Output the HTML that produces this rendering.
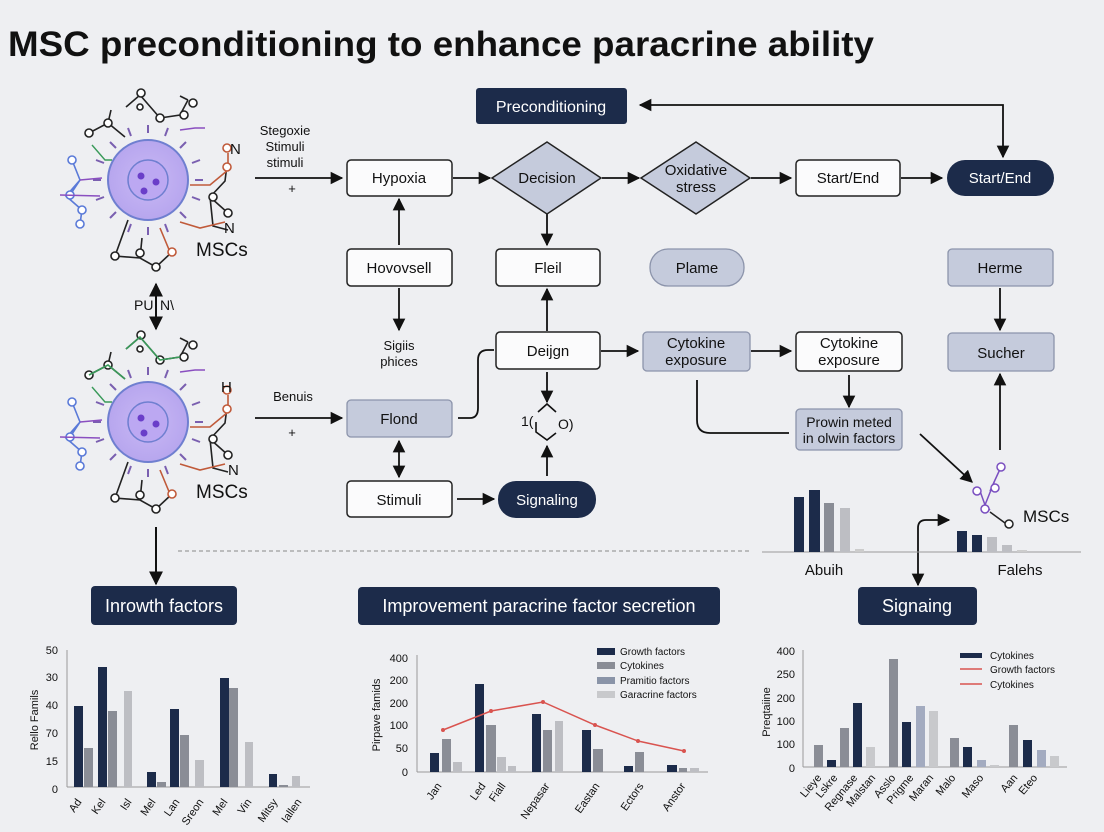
<!DOCTYPE html>
<html><head><meta charset="utf-8"><style>
html,body{margin:0;padding:0;background:#eeeff2;}
svg{display:block;font-family:"Liberation Sans",sans-serif;}
</style></head><body>
<svg width="1104" height="832" viewBox="0 0 1104 832" xmlns="http://www.w3.org/2000/svg">
<defs>
<marker id="a" viewBox="0 0 10 10" refX="9" refY="5" markerWidth="7" markerHeight="7" orient="auto-start-reverse"><path d="M0,0L10,5L0,10z" fill="#111"/></marker>
<radialGradient id="cg" cx="50%" cy="50%" r="50%"><stop offset="0" stop-color="#c9b8f5"/><stop offset="1" stop-color="#b7a6ee"/></radialGradient>
</defs>
<rect width="1104" height="832" fill="#eeeff2"/>
<text x="8" y="56" font-size="35" font-weight="bold" fill="#111" textLength="866" lengthAdjust="spacingAndGlyphs">MSC preconditioning to enhance  paracrine ability</text>

<!-- cells -->
<g id="cell1">
<g stroke="#7a5fb0" stroke-width="2">
<line x1="148" y1="125" x2="148" y2="133"/><line x1="148" y1="227" x2="148" y2="235"/>
<line x1="93" y1="180" x2="101" y2="180"/><line x1="195" y1="180" x2="203" y2="180"/>
<line x1="110" y1="142" x2="116" y2="148"/><line x1="186" y1="142" x2="180" y2="148"/>
<line x1="110" y1="218" x2="116" y2="212"/><line x1="186" y1="218" x2="180" y2="212"/>
<line x1="128" y1="128" x2="131" y2="136"/><line x1="168" y1="128" x2="165" y2="136"/>
<line x1="128" y1="232" x2="131" y2="224"/><line x1="168" y1="232" x2="165" y2="224"/>
<line x1="96" y1="160" x2="104" y2="163"/><line x1="200" y1="160" x2="192" y2="163"/>
<line x1="96" y1="200" x2="104" y2="197"/><line x1="200" y1="200" x2="192" y2="197"/>
</g>
<circle cx="148" cy="180" r="40" fill="url(#cg)" stroke="#6f7fd0" stroke-width="2"/>
<circle cx="148" cy="180" r="20" fill="#bca8f2" stroke="#6f7fd0" stroke-width="1.5"/>
<circle cx="141" cy="176" r="3.5" fill="#6a3ec9"/><circle cx="156" cy="182" r="3.5" fill="#6a3ec9"/><circle cx="144" cy="191" r="3.5" fill="#6a3ec9"/>
<g fill="none" stroke="#222" stroke-width="1.6">
<path d="M125,137 L108,123 L89,133 M108,123 L111,110 M126,107 L140,95 L160,118 M140,95 L141,93 M160,118 L180,115 L188,100 M188,100 L180,96"/>
<circle cx="89" cy="133" r="4" fill="#fff"/><circle cx="108" cy="123" r="4" fill="#fff"/><circle cx="141" cy="93" r="4" fill="#fff"/><circle cx="140" cy="107" r="3" fill="#fff"/><circle cx="160" cy="118" r="4" fill="#fff"/><circle cx="184" cy="115" r="4" fill="#fff"/><circle cx="193" cy="103" r="4" fill="#fff"/>
<path d="M128,220 L115,256 L140,258 L156,267 L172,252 M140,258 L142,238 M228,230 L213,226 L210,197 L225,181 L227,165 M210,197 L228,213"/>
<circle cx="115" cy="256" r="4" fill="#fff"/><circle cx="140" cy="253" r="4" fill="#fff"/><circle cx="156" cy="267" r="4" fill="#fff"/><circle cx="228" cy="213" r="4" fill="#fff"/><circle cx="213" cy="197" r="4" fill="#fff"/>
</g>
<g fill="none" stroke="#c05a3a" stroke-width="1.6"><path d="M190,185 L210,185 L228,170 L228,153 M180,222 L200,228 L225,222 M160,228 L170,252"/><circle cx="227" cy="167" r="4" fill="#fff"/><circle cx="227" cy="148" r="4" fill="#fff"/><circle cx="172" cy="252" r="4" fill="#fff"/></g>
<g fill="none" stroke="#5a7ad8" stroke-width="1.6"><path d="M72,160 L80,180 L70,195 M80,180 L66,196 L82,210 L80,224"/><circle cx="72" cy="160" r="4" fill="#fff"/><circle cx="70" cy="195" r="4" fill="#fff"/><circle cx="80" cy="224" r="4" fill="#fff"/><circle cx="82" cy="210" r="4" fill="#fff"/></g>
<g fill="none" stroke="#8a4fc0" stroke-width="1.6"><path d="M60,195 L100,196 M80,180 L102,178 M180,130 L195,128 L205,128"/></g>
<g fill="none" stroke="#3a9a5a" stroke-width="1.4"><path d="M92,145 L105,160 L112,160"/></g>
</g>
<text x="230" y="154" font-size="15" fill="#111">N</text><text x="224" y="233" font-size="15" fill="#111">N</text>
<text x="196" y="256" font-size="19" fill="#111">MSCs</text>
<use href="#cell1" transform="translate(0,242)"/>
<g fill="none" stroke="#3a9a5a" stroke-width="1.6"><path d="M125,379 L108,365 L89,375 M126,349 L140,337 L160,360 L180,357"/></g>
<text x="221" y="392" font-size="15" fill="#111">H</text>
<text x="228" y="475" font-size="15" fill="#111">N</text>
<text x="196" y="498" font-size="19" fill="#111">MSCs</text>

<text x="134" y="310" font-size="14" fill="#111">PU</text><text x="160" y="310" font-size="14" fill="#111">N\</text>
<line x1="156" y1="284" x2="156" y2="329" stroke="#111" stroke-width="2" marker-start="url(#a)" marker-end="url(#a)"/>
<line x1="156" y1="527" x2="156" y2="584" stroke="#111" stroke-width="2" marker-end="url(#a)"/>

<!-- texts left -->
<g font-size="13" fill="#111" text-anchor="middle">
<text x="285" y="135">Stegoxie</text><text x="285" y="151">Stimuli</text><text x="285" y="167">stimuli</text>
<text x="292" y="193">+</text>
<text x="293" y="401">Benuis</text><text x="292" y="437">+</text>
<text x="399" y="350">Sigiis</text><text x="399" y="366">phices</text>
</g>

<!-- connectors -->
<g stroke="#111" stroke-width="1.8" fill="none">
<line x1="255" y1="178" x2="342" y2="178" marker-end="url(#a)"/>
<line x1="453" y1="178" x2="490" y2="178" marker-end="url(#a)"/>
<line x1="602" y1="178" x2="639" y2="178" marker-end="url(#a)"/>
<line x1="751" y1="178" x2="791" y2="178" marker-end="url(#a)"/>
<line x1="901" y1="178" x2="942" y2="178" marker-end="url(#a)"/>
<polyline points="1003,157 1003,105 640,105" marker-start="url(#a)" marker-end="url(#a)"/>
<line x1="399" y1="245" x2="399" y2="199" marker-end="url(#a)"/>
<line x1="547" y1="214" x2="547" y2="245" marker-end="url(#a)"/>
<line x1="547" y1="331" x2="547" y2="289" marker-end="url(#a)"/>
<line x1="1000" y1="288" x2="1000" y2="330" marker-end="url(#a)"/>
<line x1="399" y1="288" x2="399" y2="330" marker-end="url(#a)"/>
<line x1="601" y1="351" x2="638" y2="351" marker-end="url(#a)"/>
<line x1="751" y1="351" x2="791" y2="351" marker-end="url(#a)"/>
<line x1="849" y1="375" x2="849" y2="407" marker-end="url(#a)"/>
<path d="M697,380 L697,420 Q697,433 710,433 L789,433"/>
<line x1="920" y1="434" x2="972" y2="482" marker-end="url(#a)"/>
<line x1="1000" y1="450" x2="1000" y2="374" marker-end="url(#a)"/>
<line x1="255" y1="418" x2="342" y2="418" marker-end="url(#a)"/>
<path d="M458,418 L470,418 Q478,418 478,408 L478,360 Q478,350 488,350 L494,350"/>
<line x1="399" y1="441" x2="399" y2="477" marker-start="url(#a)" marker-end="url(#a)"/>
<line x1="457" y1="499" x2="494" y2="499" marker-end="url(#a)"/>
<line x1="547" y1="476" x2="547" y2="446" marker-end="url(#a)"/>
<line x1="547" y1="372" x2="547" y2="402" marker-end="url(#a)"/>
<path d="M918,585 L918,528 Q918,520 926,520 L949,520" marker-start="url(#a)" marker-end="url(#a)"/>
</g>
<g stroke="#111" stroke-width="1.6" fill="none"><path d="M538,412 L547,404 L556,412 M536,422 L536,432 L547,440 L556,433"/></g>
<text x="521" y="426" font-size="14" fill="#111">1(</text><text x="558" y="429" font-size="14" fill="#111">O)</text>

<!-- nodes -->
<rect x="476" y="88" width="151" height="36" rx="3" fill="#1c2b4a"/>
<text x="551" y="112" font-size="16" fill="#fff" text-anchor="middle">Preconditioning</text>
<g stroke="#222" stroke-width="1.5">
<rect x="347" y="160" width="105" height="36" rx="4" fill="#fbfbfc"/>
<polygon points="492,178 547,142 601,178 547,214" fill="#c5cbdc"/>
<polygon points="641,178 696,142 750,178 696,214" fill="#c5cbdc"/>
<rect x="796" y="160" width="104" height="36" rx="4" fill="#fbfbfc"/>
<rect x="347" y="249" width="105" height="37" rx="4" fill="#fbfbfc"/>
<rect x="496" y="249" width="104" height="37" rx="4" fill="#fbfbfc"/>
<rect x="496" y="332" width="104" height="37" rx="4" fill="#fbfbfc"/>
<rect x="796" y="332" width="106" height="39" rx="4" fill="#fbfbfc"/>
<rect x="347" y="481" width="105" height="36" rx="4" fill="#fbfbfc"/>
</g>
<g stroke="#8c94ab" stroke-width="1.3" fill="#c5cbdc">
<rect x="650" y="249" width="94" height="37" rx="18"/>
<rect x="948" y="249" width="105" height="37" rx="4"/>
<rect x="643" y="332" width="107" height="39" rx="4"/>
<rect x="948" y="333" width="106" height="38" rx="4"/>
<rect x="796" y="409" width="106" height="41" rx="4"/>
<rect x="347" y="400" width="105" height="37" rx="4"/>
</g>
<rect x="947" y="160" width="107" height="36" rx="18" fill="#1c2b4a"/>
<rect x="498" y="481" width="98" height="37" rx="18" fill="#1c2b4a"/>
<g font-size="15" fill="#111" text-anchor="middle">
<text x="399" y="183">Hypoxia</text>
<text x="547" y="183">Decision</text>
<text x="696" y="175">Oxidative</text><text x="696" y="192">stress</text>
<text x="848" y="183">Start/End</text>
<text x="399" y="273">Hovovsell</text>
<text x="548" y="273">Fleil</text>
<text x="697" y="273">Plame</text>
<text x="1000" y="273">Herme</text>
<text x="548" y="356">Deĳgn</text>
<text x="696" y="348">Cytokine</text><text x="696" y="365">exposure</text>
<text x="849" y="348">Cytokine</text><text x="849" y="365">exposure</text>
<text x="1001" y="358">Sucher</text>
<text x="849" y="427" font-size="14">Prowin meted</text><text x="849" y="443" font-size="14">in olwin factors</text>
<text x="399" y="424">Flond</text>
<text x="399" y="505">Stimuli</text>
</g>
<text x="1000" y="183" font-size="15" fill="#fff" text-anchor="middle">Start/End</text>
<text x="547" y="505" font-size="15" fill="#fff" text-anchor="middle">Signaling</text>

<g fill="none" stroke="#7a4fc0" stroke-width="1.5"><path d="M1001,467 L995,480 L990,491 M980,491 L985,505 L990,510 M995,480 L985,505"/>
<circle cx="1001" cy="467" r="4" fill="#fff"/><circle cx="995" cy="488" r="4" fill="#fff"/><circle cx="977" cy="491" r="4" fill="#fff"/><circle cx="985" cy="509" r="4" fill="#fff"/></g>
<path d="M990,512 L1005,523" stroke="#222" stroke-width="1.5"/><circle cx="1009" cy="524" r="4" fill="#fff" stroke="#222" stroke-width="1.5"/>
<text x="1023" y="522" font-size="17" fill="#111">MSCs</text>

<line x1="178" y1="551" x2="752" y2="551" stroke="#888" stroke-width="1" stroke-dasharray="4,3"/>
<line x1="762" y1="552" x2="1081" y2="552" stroke="#999" stroke-width="1"/>
<rect x="794" y="497" width="10" height="55" fill="#1c2b4a"/><rect x="809" y="490" width="11" height="62" fill="#1c2b4a"/>
<rect x="824" y="503" width="10" height="49" fill="#8a8d96"/><rect x="840" y="508" width="10" height="44" fill="#bdbec3"/><rect x="855" y="549" width="9" height="3" fill="#ccc"/>
<rect x="957" y="531" width="10" height="21" fill="#1c2b4a"/><rect x="972" y="535" width="10" height="17" fill="#1c2b4a"/>
<rect x="987" y="537" width="10" height="15" fill="#bdbec3"/><rect x="1002" y="545" width="10" height="7" fill="#bdbec3"/><rect x="1017" y="550" width="10" height="2" fill="#ccc"/>
<text x="824" y="575" font-size="15" fill="#111" text-anchor="middle">Abuih</text>
<text x="1020" y="575" font-size="15" fill="#111" text-anchor="middle">Falehs</text>

<rect x="91" y="586" width="146" height="39" rx="4" fill="#1c2b4a"/>
<text x="164" y="612" font-size="18" fill="#fff" text-anchor="middle">Inrowth factors</text>
<rect x="358" y="587" width="362" height="38" rx="4" fill="#1c2b4a"/>
<text x="539" y="612" font-size="18" fill="#fff" text-anchor="middle">Improvement paracrine factor secretion</text>
<rect x="858" y="587" width="119" height="38" rx="4" fill="#1c2b4a"/>
<text x="917" y="612" font-size="18" fill="#fff" text-anchor="middle">Signaing</text>

<!-- chart 1 -->
<g stroke="#999" stroke-width="1"><line x1="67" y1="650" x2="67" y2="787"/><line x1="67" y1="787" x2="310" y2="787"/></g>
<g font-size="11" fill="#111" text-anchor="end"><text x="58" y="654">50</text><text x="58" y="681">30</text><text x="58" y="709">40</text><text x="58" y="737">70</text><text x="58" y="765">15</text><text x="58" y="793">0</text></g>
<text transform="translate(38,720) rotate(-90)" font-size="11" fill="#111" text-anchor="middle">Rello Famils</text>
<g fill="#1c2b4a"><rect x="74" y="706" width="9" height="81"/><rect x="98" y="667" width="9" height="120"/><rect x="147" y="772" width="9" height="15"/><rect x="170" y="709" width="9" height="78"/><rect x="220" y="678" width="9" height="109"/><rect x="269" y="774" width="8" height="13"/></g>
<g fill="#8a8d96"><rect x="84" y="748" width="9" height="39"/><rect x="108" y="711" width="9" height="76"/><rect x="157" y="782" width="9" height="5"/><rect x="180" y="735" width="9" height="52"/><rect x="229" y="688" width="9" height="99"/><rect x="279" y="785" width="9" height="2"/></g>
<g fill="#bdbec3"><rect x="124" y="691" width="8" height="96"/><rect x="195" y="760" width="9" height="27"/><rect x="245" y="742" width="8" height="45"/><rect x="292" y="776" width="8" height="11"/></g>
<g font-size="11" fill="#111" text-anchor="end">
<text transform="translate(82,802) rotate(-55)">Ad</text><text transform="translate(106,802) rotate(-55)">Kel</text><text transform="translate(132,802) rotate(-55)">Isl</text><text transform="translate(156,802) rotate(-55)">Mel</text><text transform="translate(180,802) rotate(-55)">Lan</text><text transform="translate(204,802) rotate(-55)">Sreon</text><text transform="translate(228,802) rotate(-55)">Mel</text><text transform="translate(252,802) rotate(-55)">Vin</text><text transform="translate(278,802) rotate(-55)">Mitsy</text><text transform="translate(302,802) rotate(-55)">Iallen</text>
</g>

<!-- chart 2 -->
<g stroke="#999" stroke-width="1"><line x1="417" y1="655" x2="417" y2="772"/><line x1="417" y1="772" x2="708" y2="772"/></g>
<g font-size="11" fill="#111" text-anchor="end"><text x="408" y="662">400</text><text x="408" y="684">200</text><text x="408" y="707">200</text><text x="408" y="729">100</text><text x="408" y="752">50</text><text x="408" y="776">0</text></g>
<text transform="translate(380,715) rotate(-90)" font-size="11" fill="#111" text-anchor="middle">Pirpave famids</text>
<g fill="#1c2b4a"><rect x="430" y="753" width="9" height="19"/><rect x="475" y="684" width="9" height="88"/><rect x="532" y="714" width="9" height="58"/><rect x="582" y="730" width="9" height="42"/><rect x="624" y="766" width="9" height="6"/><rect x="667" y="765" width="10" height="7"/></g>
<g fill="#8a8d96"><rect x="442" y="739" width="9" height="33"/><rect x="486" y="725" width="10" height="47"/><rect x="543" y="730" width="9" height="42"/><rect x="593" y="749" width="10" height="23"/><rect x="635" y="752" width="9" height="20"/><rect x="679" y="768" width="8" height="4"/></g>
<g fill="#bdbec3"><rect x="453" y="762" width="9" height="10"/><rect x="497" y="757" width="9" height="15"/><rect x="508" y="766" width="8" height="6"/><rect x="555" y="721" width="8" height="51"/><rect x="690" y="768" width="9" height="4"/></g>
<polyline points="443,730 491,711 543,702 595,725 638,741 684,751" fill="none" stroke="#d9534f" stroke-width="1.5"/>
<g fill="#d9534f"><circle cx="443" cy="730" r="2"/><circle cx="491" cy="711" r="2"/><circle cx="543" cy="702" r="2"/><circle cx="595" cy="725" r="2"/><circle cx="638" cy="741" r="2"/><circle cx="684" cy="751" r="2"/></g>
<rect x="597" y="648" width="18" height="7" fill="#1c2b4a"/><rect x="597" y="662" width="18" height="7" fill="#8a8d96"/><rect x="597" y="677" width="18" height="7" fill="#8a94a8"/><rect x="597" y="691" width="18" height="7" fill="#c8c9cc"/>
<g font-size="10" fill="#111"><text x="620" y="655">Growth factors</text><text x="620" y="669">Cytokines</text><text x="620" y="684">Pramitio factors</text><text x="620" y="698">Garacrine factors</text></g>
<g font-size="11" fill="#111" text-anchor="end">
<text transform="translate(442,786) rotate(-55)">Jan</text><text transform="translate(486,786) rotate(-55)">Led</text><text transform="translate(506,786) rotate(-55)">Fiall</text><text transform="translate(550,786) rotate(-55)">Nepasar</text><text transform="translate(600,786) rotate(-55)">Eastan</text><text transform="translate(644,786) rotate(-55)">Ectors</text><text transform="translate(686,786) rotate(-55)">Anstor</text>
</g>

<!-- chart 3 -->
<g stroke="#999" stroke-width="1"><line x1="803" y1="650" x2="803" y2="767"/><line x1="803" y1="767" x2="1067" y2="767"/></g>
<g font-size="11" fill="#111" text-anchor="end"><text x="795" y="655">400</text><text x="795" y="678">250</text><text x="795" y="702">200</text><text x="795" y="725">100</text><text x="795" y="748">100</text><text x="795" y="772">0</text></g>
<text transform="translate(770,712) rotate(-90)" font-size="11" fill="#111" text-anchor="middle">Preqtaiine</text>
<g fill="#8a8d96"><rect x="814" y="745" width="9" height="22"/><rect x="840" y="728" width="9" height="39"/><rect x="889" y="659" width="9" height="108"/><rect x="950" y="738" width="9" height="29"/><rect x="1009" y="725" width="9" height="42"/></g>
<g fill="#1c2b4a"><rect x="827" y="760" width="9" height="7"/><rect x="853" y="703" width="9" height="64"/><rect x="902" y="722" width="9" height="45"/><rect x="963" y="747" width="9" height="20"/><rect x="1023" y="740" width="9" height="27"/></g>
<g fill="#a3abc0"><rect x="916" y="706" width="9" height="61"/><rect x="977" y="760" width="9" height="7"/><rect x="1037" y="750" width="9" height="17"/></g>
<g fill="#c8c9cc"><rect x="866" y="747" width="9" height="20"/><rect x="929" y="711" width="9" height="56"/><rect x="990" y="765" width="9" height="2"/><rect x="1050" y="756" width="9" height="11"/></g>
<rect x="960" y="653" width="22" height="5" fill="#1c2b4a"/>
<line x1="960" y1="669" x2="982" y2="669" stroke="#d9534f" stroke-width="1.5"/><line x1="960" y1="684" x2="982" y2="684" stroke="#d9534f" stroke-width="1.5"/>
<g font-size="10" fill="#111"><text x="990" y="659">Cytokines</text><text x="990" y="673">Growth factors</text><text x="990" y="688">Cytokines</text></g>
<g font-size="11" fill="#111" text-anchor="end">
<text transform="translate(822,778) rotate(-50)">Lieye</text><text transform="translate(838,778) rotate(-50)">Lskre</text><text transform="translate(858,778) rotate(-50)">Regnase</text><text transform="translate(876,778) rotate(-50)">Malstan</text><text transform="translate(896,778) rotate(-50)">Asslo</text><text transform="translate(914,778) rotate(-50)">Prigme</text><text transform="translate(934,778) rotate(-50)">Maran</text><text transform="translate(956,778) rotate(-50)">Malo</text><text transform="translate(984,778) rotate(-50)">Maso</text><text transform="translate(1018,778) rotate(-50)">Aan</text><text transform="translate(1038,778) rotate(-50)">Eteo</text>
</g>
</svg>
</body></html>
